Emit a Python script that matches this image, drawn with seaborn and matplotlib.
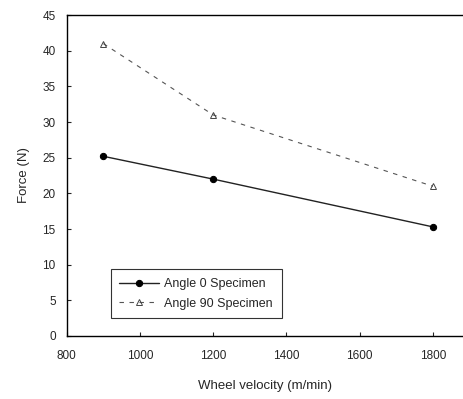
import pandas as pd
import matplotlib.pyplot as plt
import seaborn as sns

velocity = [900, 1200, 1800]
force_angle0 = [25.2, 22.0, 15.3]
force_angle90 = [41.0, 31.0, 21.0]
labels = ['Angle 0 Specimen', 'Angle 90 Specimen']

df = pd.DataFrame({
    'velocity': velocity * 2,
    'force': force_angle0 + force_angle90,
    'series': [labels[0]] * 3 + [labels[1]] * 3,
})

sns.set_style('ticks')
plt.rcParams['font.family'] = ['Liberation Sans', 'DejaVu Sans']

fig = plt.figure(figsize=(4.64, 3.99), dpi=100)
ax = fig.add_axes([0.144, 0.158, 0.856, 0.804])

sns.lineplot(data=df[df['series'] == labels[0]], x='velocity', y='force',
             color='#222222', lw=1.0, marker='o', markersize=4.5,
             markeredgecolor='black', markerfacecolor='black',
             label=labels[0], ax=ax)
sns.lineplot(data=df[df['series'] == labels[1]], x='velocity', y='force',
             color='#555555', lw=0.8, linestyle=(0, (4, 5)), marker='^',
             markersize=4, markerfacecolor='none', markeredgecolor='#444444',
             markeredgewidth=0.7, label=labels[1], ax=ax)

ax.set_xlim(800, 1885)
ax.set_ylim(0, 45)
ax.set_xticks([800, 1000, 1200, 1400, 1600, 1800])
ax.set_yticks(range(0, 50, 5))
ax.tick_params(direction='in', length=3, width=0.8, labelsize=8.5, pad=10)
ax.tick_params(axis='y', pad=8)
ax.spines['right'].set_visible(False)
for s in ['left', 'bottom', 'top']:
    ax.spines[s].set_linewidth(1.0)
    ax.spines[s].set_color('black')

ax.set_xlabel('Wheel velocity (m/min)', fontsize=9.5, labelpad=13)
ax.set_ylabel('Force (N)', fontsize=9.5, labelpad=9)

leg = ax.legend(loc='lower left', bbox_to_anchor=(0.11, 0.055), fontsize=9,
                frameon=True, fancybox=False, borderpad=0.7, handlelength=3.2,
                handletextpad=0.4, labelspacing=0.6, borderaxespad=0)
leg.get_frame().set_edgecolor('black')
leg.get_frame().set_linewidth(0.8)

fig.savefig('out.png', dpi=100)
